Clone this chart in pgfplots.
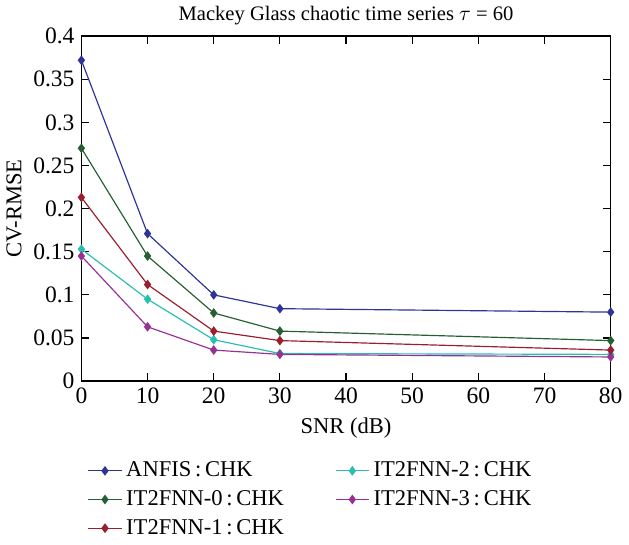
\documentclass[border=0pt]{standalone}
\usepackage{pgfplots}
\pgfplotsset{compat=1.18}
\usepackage{fontspec}
\setmainfont{Liberation Serif}
\definecolor{cA}{RGB}{46,52,150}
\definecolor{cB}{RGB}{38,96,50}
\definecolor{cC}{RGB}{155,30,45}
\definecolor{cD}{RGB}{40,190,178}
\definecolor{cE}{RGB}{150,50,150}
\begin{document}
\begin{tikzpicture}
\begin{axis}[
  scale only axis,
  width=270pt, height=176pt,
  xmin=0, xmax=80, ymin=0, ymax=0.4,
  xtick={0,10,...,80},
  xticklabels={0,10,20,30,40,50,60,70,80},
  ytick={0,0.05,...,0.4},
  yticklabels={0,0.05,0.1,0.15,0.2,0.25,0.3,0.35,0.4},
  tick align=inside,
  major tick length=4pt,
  axis line style={line width=0.8pt},
  every tick/.style={black, line width=0.6pt},
  tick label style={font=\rmfamily\fontsize{12}{14}\selectfont},
  xlabel={SNR (dB)},
  ylabel={CV-RMSE},
  label style={font=\rmfamily\fontsize{11.5}{13}\selectfont},
  ylabel style={yshift=-1pt},
  title={Mackey Glass chaotic time series $\tau$ = 60},
  title style={font=\rmfamily\fontsize{10.5}{12}\selectfont, yshift=-4pt},
  /pgf/number format/assume math mode=true,
  legend columns=2,
  legend cell align=left,
  legend style={at={(0,0)}, anchor=north west, yshift=-37pt, draw=none,
    font=\rmfamily\fontsize{11.5}{13}\selectfont, row sep=1.5pt,
    /tikz/column 2/.style={column sep=24pt}},
  every axis plot/.append style={line width=0.6pt, mark=diamond*, mark size=2pt},
]
\addplot[cA, mark options={fill=cA}] coordinates {(0,0.372) (10,0.171) (20,0.100) (30,0.084) (80,0.080)};
\addlegendentry{ANFIS\,:\,CHK}
\addplot[cD, mark options={fill=cD}] coordinates {(0,0.153) (10,0.095) (20,0.048) (30,0.032) (80,0.031)};
\addlegendentry{IT2FNN-2\,:\,CHK}
\addplot[cB, mark options={fill=cB}] coordinates {(0,0.270) (10,0.145) (20,0.079) (30,0.058) (80,0.047)};
\addlegendentry{IT2FNN-0\,:\,CHK}
\addplot[cE, mark options={fill=cE}] coordinates {(0,0.145) (10,0.063) (20,0.036) (30,0.031) (80,0.028)};
\addlegendentry{IT2FNN-3\,:\,CHK}
\addplot[cC, mark options={fill=cC}] coordinates {(0,0.213) (10,0.112) (20,0.058) (30,0.047) (80,0.036)};
\addlegendentry{IT2FNN-1\,:\,CHK}
\end{axis}
\end{tikzpicture}
\end{document}
